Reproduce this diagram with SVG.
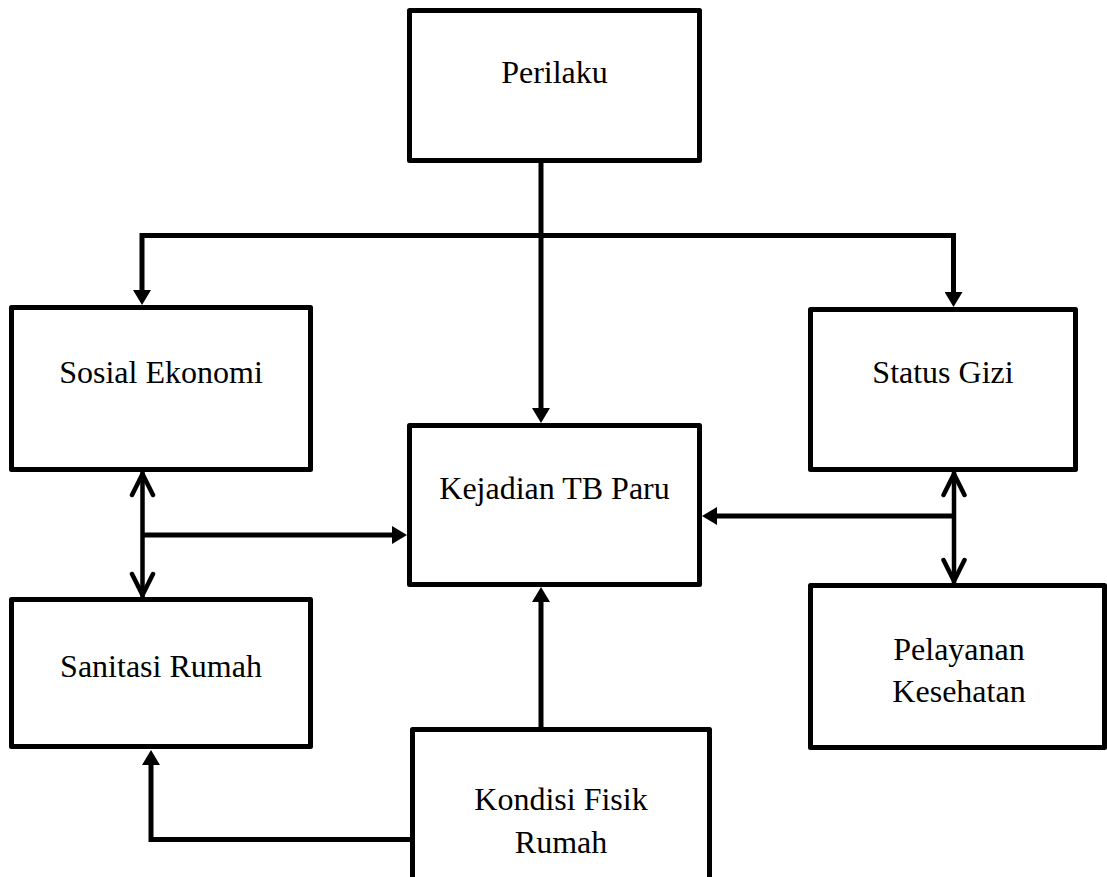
<svg xmlns="http://www.w3.org/2000/svg" width="1107" height="877" viewBox="0 0 1107 877">
  <style>
    .box { fill: #ffffff; stroke: #000000; stroke-width: 5; stroke-linejoin: round; }
    .lbl { font-family: "Liberation Serif", "Times New Roman", serif; font-size: 32px; fill: #000000; text-anchor: middle; }
    .con { fill: none; stroke: #000000; stroke-width: 5; stroke-linejoin: miter; }
    .con2 { fill: none; stroke: #000000; stroke-width: 4.5; }
  </style>
  <defs>
    <marker id="tri" markerUnits="userSpaceOnUse" viewBox="0 0 15 18" refX="7" refY="9" markerWidth="15" markerHeight="18" orient="auto">
      <path d="M0,0 L15,9 L0,18 Z" fill="#000000"/>
    </marker>
    <marker id="vee" markerUnits="userSpaceOnUse" viewBox="0 0 30 30" refX="26" refY="15" markerWidth="30" markerHeight="30" orient="auto-start-reverse">
      <path d="M3,4.5 L24,15 L3,25.5" fill="none" stroke="#000000" stroke-width="4.5" stroke-linejoin="round" stroke-linecap="round"/>
    </marker>
  </defs>
  <rect width="1107" height="877" fill="#ffffff"/>

  <g id="connectors">
    <path class="con" d="M541,163 V415" marker-end="url(#tri)"/>
    <path class="con" d="M541,235.5 H142 V297" marker-end="url(#tri)"/>
    <path class="con" d="M541,235.5 H953.5 V299" marker-end="url(#tri)"/>
    <path class="con2" d="M142.5,472 V597" marker-start="url(#vee)" marker-end="url(#vee)"/>
    <path class="con" d="M142.5,535 H399" marker-end="url(#tri)"/>
    <path class="con2" d="M954,472 V583" marker-start="url(#vee)" marker-end="url(#vee)"/>
    <path class="con" d="M954,516 H710" marker-end="url(#tri)"/>
    <path class="con" d="M541,727 V595" marker-end="url(#tri)"/>
    <path class="con" d="M412,839.5 H151 V758" marker-end="url(#tri)"/>
  </g>

  <g id="perilaku">
    <rect class="box" x="409.5" y="10.5" width="290" height="150"/>
    <text class="lbl" x="554.5" y="83">Perilaku</text>
  </g>
  <g id="sosial-ekonomi">
    <rect class="box" x="11.5" y="307.5" width="299" height="162"/>
    <text class="lbl" x="161" y="383">Sosial Ekonomi</text>
  </g>
  <g id="kejadian-tb-paru">
    <rect class="box" x="409.5" y="425.5" width="290" height="159"/>
    <text class="lbl" x="554.5" y="499">Kejadian TB Paru</text>
  </g>
  <g id="status-gizi">
    <rect class="box" x="810.5" y="309.5" width="265" height="160"/>
    <text class="lbl" x="943" y="383">Status Gizi</text>
  </g>
  <g id="pelayanan-kesehatan">
    <rect class="box" x="810.5" y="585.5" width="294" height="162"/>
    <text class="lbl" x="959" y="660">Pelayanan</text>
    <text class="lbl" x="959" y="702">Kesehatan</text>
  </g>
  <g id="sanitasi-rumah">
    <rect class="box" x="11.5" y="599.5" width="299" height="147"/>
    <text class="lbl" x="161" y="677">Sanitasi Rumah</text>
  </g>
  <g id="kondisi-fisik-rumah">
    <rect class="box" x="412.5" y="729.5" width="297" height="200"/>
    <text class="lbl" x="561" y="810">Kondisi Fisik</text>
    <text class="lbl" x="561" y="853">Rumah</text>
  </g>
</svg>
